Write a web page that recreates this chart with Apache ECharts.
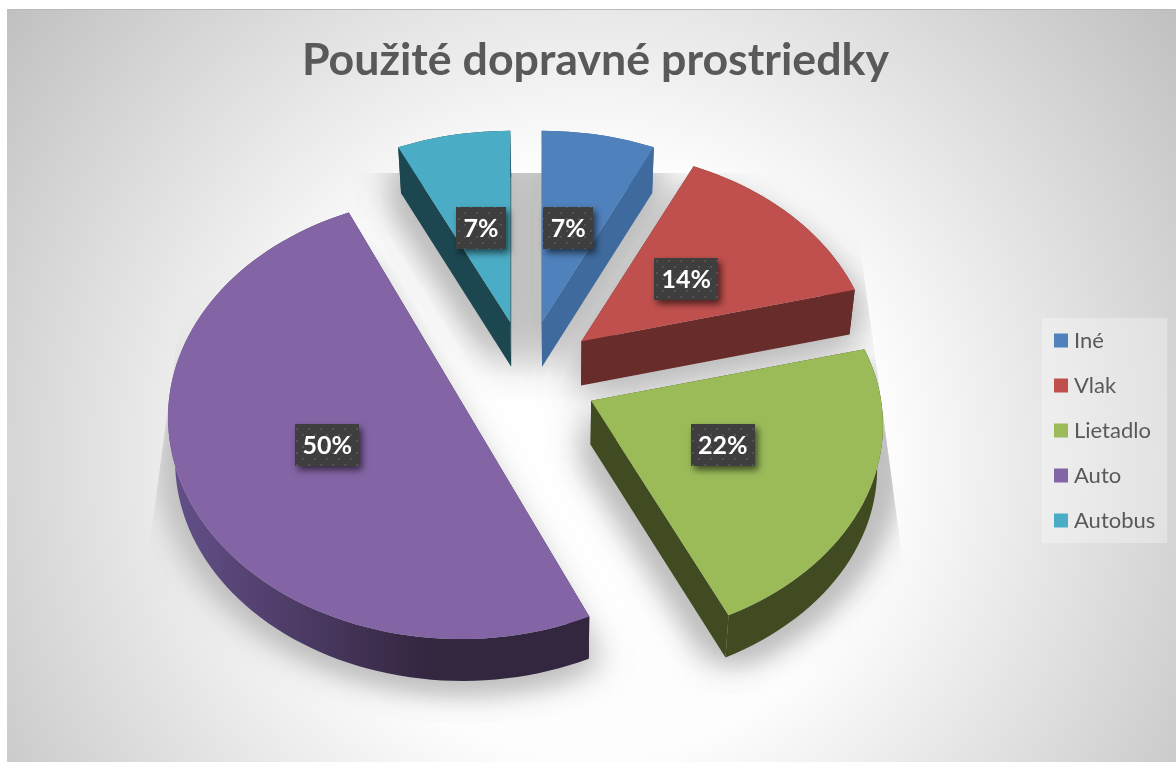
<!DOCTYPE html>
<html><head><meta charset="utf-8">
<style>html,body{margin:0;padding:0;background:#fff}#c{width:1176px;height:762px}</style>
<script src="https://cdn.jsdelivr.net/npm/echarts@6/dist/echarts.min.js"></script>
</head><body><div id="c"></div>
<script>
const categories = ['Iné','Vlak','Lietadlo','Auto','Autobus'];
const shareValues = [7,14,22,50,7];
const chartTitle = 'Použité dopravné prostriedky';
const topColors = ['#4f81bd','#c0504d','#9bbb59','#8364a5','#4bacc6'];
const sideColors = ['#3f6a9d','#682c2a','#414b21','#33263f','#1c4650'];

const total = shareValues.reduce((a,b)=>a+b,0);
const RAD = Math.PI/180;
const starts = []; let acc = 0;
shareValues.forEach(v=>{starts.push(acc); acc += v/total*360;});
const hub = {x:526,y:377,ex:72,ey:56};
const vanishX = 560, depthScale = 0.982;
const labelNudge = [[-3,2],[-1,2],[0,-1.5],[-2,-3],[0,2]];
function disc(i){ return i===3 ? {a:292,b:220.5,k:0.0744,rot:1} : {a:290,b:213,k:0.112,rot:0}; }
function apex(i){
  const mid=(starts[i]+shareValues[i]/total*180)*RAD;
  return {x:hub.x+hub.ex*Math.sin(mid), y:hub.y-hub.ey*Math.cos(mid), mid};
}
function proj(i,r,deg,lower,dy){
  const d=disc(i), o=apex(i), t=(deg+d.rot)*RAD;
  const X=r*Math.sin(t), Y=r*Math.cos(t), w=1+d.k*Y;
  let x=o.x+d.a*X/w, y=o.y-d.b*Y/w;
  if(lower){ const D=44-(y-377)*0.008; x=vanishX+(x-vanishX)*depthScale; y+=D; }
  if(dy) y+=dy;
  return [x,y];
}
function rim(i,lower,dy){
  const s=starts[i], e=s+shareValues[i]/total*360, pts=[];
  const n=Math.max(6,Math.ceil((e-s)/2));
  for(let j=0;j<=n;j++) pts.push(proj(i,1,s+(e-s)*j/n,lower,dy));
  return pts;
}
function sector(i,lower,dy){ return [proj(i,0,0,lower,dy)].concat(rim(i,lower,dy)); }

const tile=document.createElement('canvas'); tile.width=12; tile.height=12;
(function(){const g=tile.getContext('2d');g.fillStyle='#3e3e3e';g.fillRect(0,0,12,12);
 g.fillStyle='#545454';g.fillRect(2,2,2,2);g.fillRect(8,8,2,2);})();

const FAR=3000;
function renderShadow(params,api){
  const i=params.dataIndex;
  const kids=[];
  const add=(pts,dx)=>{
    kids.push({type:'polygon',shape:{points:pts.map(p=>[p[0]-FAR+dx,p[1]])},
      style:{fill:'#000',shadowBlur:32,shadowColor:'#c0c0c0',shadowOffsetX:FAR,shadowOffsetY:0}});
  };
  [-14,0,14].forEach(dx=>{
    add(sector(i,true,4),dx);
    if(i!==3) add(sector(i,false,24),dx);
  });
  return {type:'group',
    clipPath:{type:'polygon',shape:{points:[[200,173],[850,173],[930,762],[120,762]]}},
    children:kids};
}
function renderSlice(i){
  return function(params,api){
    const top=sector(i), low=sector(i,true);
    const r0=top[0], r1=top[1], rn=top[top.length-1];
    const l0=low[0], l1=low[1], ln=low[low.length-1];
    const strip=rim(i).concat(rim(i,true).reverse());
    const stripFill = i===3 ? {type:'linear',global:true,x:170,y:0,x2:430,y2:0,colorStops:[{offset:0,color:'#64508a'},{offset:1,color:sideColors[i]}]} : sideColors[i];
    const mid=apex(i).mid/RAD-disc(i).rot;
    const lp=proj(i,0.49,mid);
    lp[0]+=labelNudge[i][0]; lp[1]+=labelNudge[i][1];
    const txt=Math.round(api.value(0)/total*100)+'%';
    const bw=22+14*txt.length, bh=42;
    return {type:'group',children:[
      {type:'polygon',shape:{points:[r0,r1,l1,l0]},style:{fill:sideColors[i]}},
      {type:'polygon',shape:{points:[r0,rn,ln,l0]},style:{fill:sideColors[i]}},
      {type:'polygon',shape:{points:strip},style:{fill:stripFill}},
      {type:'polygon',shape:{points:top},style:{fill:topColors[i]}},
      {type:'rect',shape:{x:Math.round(lp[0]-bw/2),y:Math.round(lp[1]-bh/2),width:bw,height:bh},
        style:{fill:{image:tile,repeat:'repeat'},shadowBlur:7,shadowOffsetX:3,shadowOffsetY:4,shadowColor:'rgba(0,0,0,0.6)'}},
      {type:'text',style:{x:lp[0],y:lp[1]+1,text:txt,fill:'#fff',align:'center',verticalAlign:'middle',font:'700 25px Lato'}}
    ]};
  };
}
const series=[{type:'custom',name:'tieň',coordinateSystem:'none',silent:true,z:1,data:shareValues.map(v=>[v]),renderItem:renderShadow}];
categories.forEach((c,i)=>series.push({type:'custom',name:c,coordinateSystem:'none',z:2,silent:true,
  itemStyle:{color:topColors[i]},data:[[shareValues[i]]],renderItem:renderSlice(i)}));

const chart=echarts.init(document.getElementById('c'),null,{renderer:'canvas'});
chart.setOption({
  animation:false,
  graphic:[
    {type:'rect',z:-10,silent:true,shape:{x:7,y:9,width:1169,height:753},
      style:{fill:{type:'radial',global:true,x:590,y:460,r:745,colorStops:[{offset:0,color:'#ffffff'},{offset:0.4,color:'#fdfdfd'},{offset:1,color:'#bfbfbf'}]}}},
    {type:'rect',z:-9,silent:true,shape:{x:7,y:9,width:1169,height:1},style:{fill:'#b9b9b9'}}
  ],
  title:{text:chartTitle,left:302,top:38,padding:0,
    textStyle:{fontFamily:'Lato',fontWeight:700,fontSize:44.7,color:'#595959'}},
  legend:{data:categories,orient:'vertical',left:1042,top:318,selectedMode:false,icon:'rect',
    itemWidth:14,itemHeight:14,itemGap:20,padding:[10,12,10,12],backgroundColor:'rgba(255,255,255,0.3)',
    textStyle:{fontFamily:'Lato',fontSize:22,color:'#595959',padding:[0,0,0,1],lineHeight:25}},
  series
});
</script></body></html>
